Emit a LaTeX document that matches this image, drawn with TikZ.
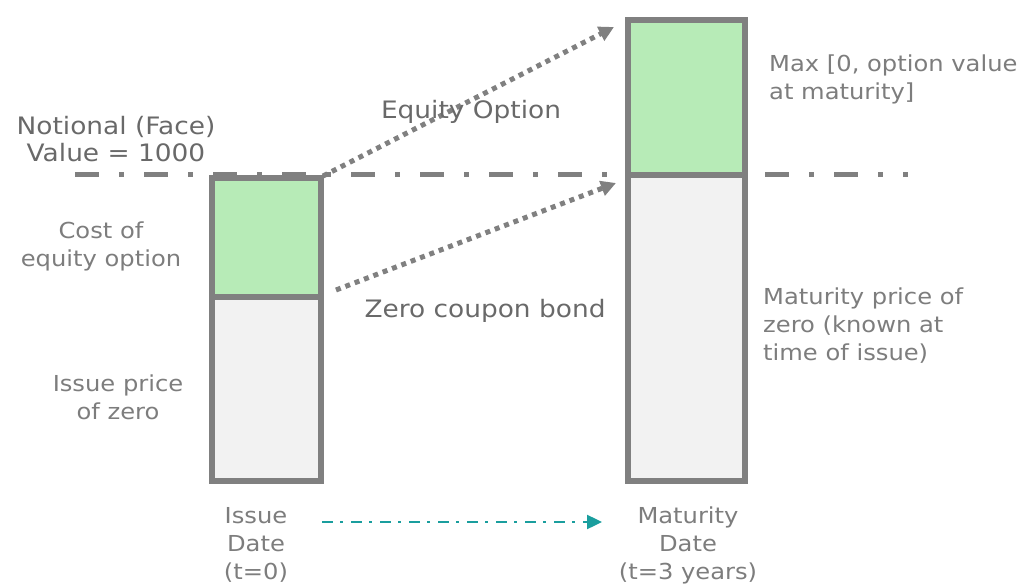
\documentclass[tikz,border=0pt]{standalone}
\usepackage{fontspec}
\setmainfont{DejaVu Sans}[FakeStretch=1.1]
\usetikzlibrary{arrows.meta}

\definecolor{barline}{RGB}{128,128,128}
\definecolor{optgreen}{RGB}{183,235,183}
\definecolor{bondgray}{RGB}{242,242,242}
\definecolor{labelgray}{RGB}{125,125,125}
\definecolor{headgray}{RGB}{105,105,105}
\definecolor{timeteal}{RGB}{26,158,158}

\begin{document}
\begin{tikzpicture}[x=1pt,y=-1pt,line join=miter,
  bar/.style={draw=barline,line width=5.5pt},
  flow/.style={draw=barline,line width=5pt,dash pattern=on 5pt off 5pt,
    -{Triangle[length=15pt,width=15pt]}},
  faceline/.style={draw=barline,line width=5pt,dash pattern=on 24pt off 20pt on 5pt off 20pt},
  timeline/.style={draw=timeteal,line width=2.4pt,dash pattern=on 11pt off 7pt on 3pt off 8pt,
    -{Triangle[length=15pt,width=14pt]}},
  txt/.style={text=labelgray,font=\fontsize{22}{28}\selectfont,inner sep=0pt},
  head/.style={text=headgray,font=\fontsize{24}{27}\selectfont,inner sep=0pt}]
  \useasboundingbox (0,0) rectangle (1019,585);
  % issue date bar
  \coordinate (LTL) at (212,178);
  \coordinate (LTR) at (321,178);
  \coordinate (LML) at (212,297);
  \coordinate (LMR) at (321,297);
  \coordinate (LBR) at (321,481);
  % maturity bar
  \coordinate (RTL) at (628,20);
  \coordinate (RML) at (628,175);
  \coordinate (RMR) at (745,175);
  \coordinate (RBR) at (745,481);
  % face value level
  \coordinate (F0) at (75,175);
  \coordinate (F1) at (908,175);
  \draw[faceline] (F0) -- (F1);
  \fill[optgreen] (LTL) rectangle (LMR);
  \fill[bondgray] (LML) rectangle (LBR);
  \fill[optgreen] (RTL) rectangle (RMR);
  \fill[bondgray] (RML) rectangle (RBR);
  \draw[bar] (LTL) rectangle (LBR);
  \draw[bar] (LML) -- (LMR);
  \draw[bar] (RTL) rectangle (RBR);
  \draw[bar] (RML) -- (RMR);
  % payoff arrows
  \coordinate (EQ0) at (323,176);
  \coordinate (EQ1) at (614,27);
  \coordinate (ZB0) at (336,290);
  \coordinate (ZB1) at (616,183);
  \draw[flow] (EQ0) -- (EQ1);
  \draw[flow] (ZB0) -- (ZB1);
  \node[head] (eqlbl) at (471,112) {Equity Option};
  \node[head] (zblbl) at (485,311) {Zero coupon bond};
  \node[head,align=center] (face) at (116,139) {Notional (Face)\\Value = 1000};
  % side notes
  \node[txt,align=center] (cost) at (101,246) {Cost of\\equity option};
  \node[txt,align=center] (issp) at (118,397) {Issue price\\of zero};
  \node[txt,align=left,anchor=west] (maxv) at (769,79) {Max [0, option value\\at maturity]};
  \node[txt,align=left,anchor=west] (matp) at (763,326) {Maturity price of\\zero (known at\\time of issue)};
  % time axis
  \node[txt,align=center] (t0) at (256,545) {Issue\\Date\\(t=0)};
  \node[txt,align=center] (t1) at (688,545) {Maturity\\Date\\(t=3 years)};
  \coordinate (TA0) at (322,522);
  \coordinate (TA1) at (602,522);
  \draw[timeline] (TA0) -- (TA1);
\end{tikzpicture}
\end{document}
